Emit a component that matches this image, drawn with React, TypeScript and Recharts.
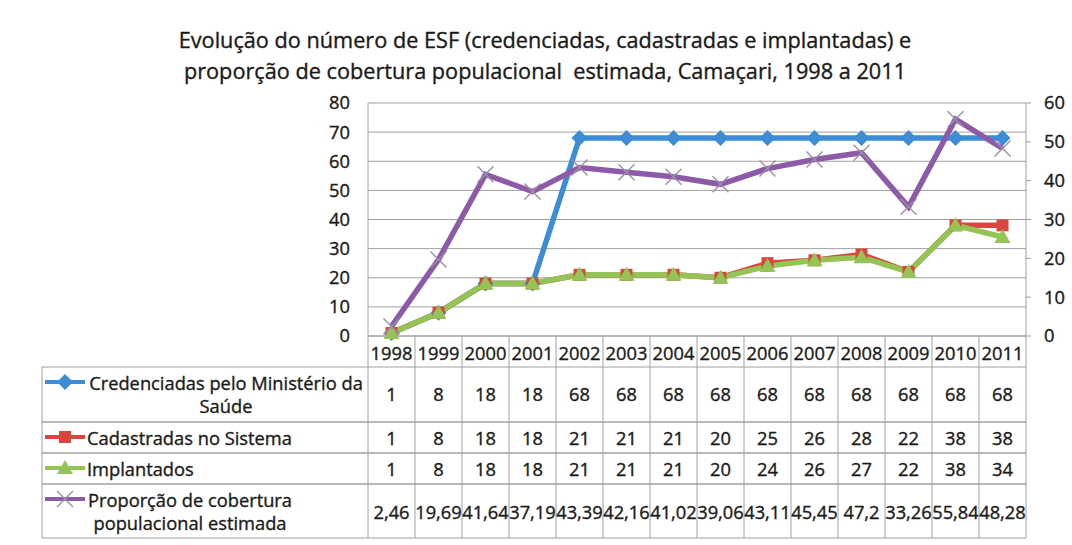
import { LineChart, Line, XAxis, YAxis, CartesianGrid } from 'recharts'

const YEARS = ['1998', '1999', '2000', '2001', '2002', '2003', '2004', '2005', '2006', '2007', '2008', '2009', '2010', '2011']
const CREDENCIADAS = [1, 8, 18, 18, 68, 68, 68, 68, 68, 68, 68, 68, 68, 68]
const CADASTRADAS = [1, 8, 18, 18, 21, 21, 21, 20, 25, 26, 28, 22, 38, 38]
const IMPLANTADOS = [1, 8, 18, 18, 21, 21, 21, 20, 24, 26, 27, 22, 38, 34]
const COBERTURA = [2.46, 19.69, 41.64, 37.19, 43.39, 42.16, 41.02, 39.06, 43.11, 45.45, 47.2, 33.26, 55.84, 48.28]
const LEFT_TICKS = [0, 10, 20, 30, 40, 50, 60, 70, 80]
const RIGHT_TICKS = [0, 10, 20, 30, 40, 50, 60]

const TITLE_1 = 'Evolução do número de ESF (credenciadas, cadastradas e implantadas) e'
const TITLE_2 = 'proporção de cobertura populacional  estimada, Camaçari, 1998 a 2011'

const BLUE = '#3d8dd6'
const RED = '#d9463d'
const GREEN = '#93c455'
const PURPLE = '#8d5aa8'
const X_MARK = '#9b90a6'
const GRID = '#a0a0a0'
const TEXT = '#1a1a1a'
const FONT = '"Open Sans", sans-serif'
const FS = 18.3
const THICK = 0.35 // a little stroke so the regular face reads like the scanned one

// layout
const W = 1072
const H = 545
const PLOT_LEFT = 368
const PLOT_RIGHT = 1026
const PLOT_TOP = 103
const PLOT_BOTTOM = 336
const STEP = (PLOT_RIGHT - PLOT_LEFT) / YEARS.length
const TABLE_LEFT = 42
const HEADER_BOTTOM = 367
const TABLE_BOTTOM = 538

const data = YEARS.map((year, i) => ({
    year,
    credenciadas: CREDENCIADAS[i],
    cadastradas: CADASTRADAS[i],
    implantados: IMPLANTADOS[i],
    cobertura: COBERTURA[i],
}))

const fmt = (v: number) => String(v).replace('.', ',')

const textStyle = { fontFamily: FONT, fontSize: FS, fill: TEXT, stroke: TEXT, strokeWidth: THICK }

type Marker = 'diamond' | 'square' | 'triangle' | 'x'

function drawMarker(kind: Marker, cx: number, cy: number, color: string, key?: any) {
    if (kind === 'diamond')
        return <path key={key} d={`M${cx},${cy - 8}L${cx + 8},${cy}L${cx},${cy + 8}L${cx - 8},${cy}Z`} fill={color} />
    if (kind === 'square')
        return <rect key={key} x={cx - 6} y={cy - 6} width={12} height={12} fill={color} />
    if (kind === 'triangle')
        return <path key={key} d={`M${cx},${cy - 8}L${cx + 8},${cy + 6}L${cx - 8},${cy + 6}Z`} fill={color} />
    return (
        <g key={key} stroke={X_MARK} strokeWidth={1.4}>
            <line x1={cx - 8} y1={cy - 8} x2={cx + 8} y2={cy + 8} />
            <line x1={cx - 8} y1={cy + 8} x2={cx + 8} y2={cy - 8} />
        </g>
    )
}

const dot = (kind: Marker, color: string) => (p: any) => drawMarker(kind, p.cx, p.cy, color, `d-${p.index}`)

// rows of the data table under the chart
const ROWS = [
    { lines: ['Credenciadas pelo Ministério da', 'Saúde'], anchor: 'middle', tx: 226, top: 367, bottom: 422, keyY: 382, valY: 393, color: BLUE, marker: 'diamond' as Marker, values: CREDENCIADAS.map(fmt) },
    { lines: ['Cadastradas no Sistema'], anchor: 'start', tx: 87, top: 422, bottom: 453, keyY: 437, valY: 437, color: RED, marker: 'square' as Marker, values: CADASTRADAS.map(fmt) },
    { lines: ['Implantados'], anchor: 'start', tx: 87, top: 453, bottom: 484, keyY: 468, valY: 468, color: GREEN, marker: 'triangle' as Marker, values: IMPLANTADOS.map(fmt) },
    { lines: ['Proporção de cobertura', 'populacional estimada'], anchor: 'middle', tx: 190, top: 484, bottom: 538, keyY: 499, valY: 511, color: PURPLE, marker: 'x' as Marker, values: COBERTURA.map(fmt) },
]

function LegendColumn({ right }: { right: number }) {
    return (
        <g>
            <line x1={TABLE_LEFT} y1={HEADER_BOTTOM} x2={TABLE_LEFT} y2={TABLE_BOTTOM} stroke={GRID} />
            {ROWS.map((r, i) => (
                <g key={i}>
                    <line x1={TABLE_LEFT} y1={r.top} x2={right} y2={r.top} stroke={GRID} />
                    <line x1={TABLE_LEFT} y1={r.bottom} x2={right} y2={r.bottom} stroke={GRID} />
                    <line x1={45} y1={r.keyY} x2={85} y2={r.keyY} stroke={r.color} strokeWidth={4} />
                    {drawMarker(r.marker, 65, r.keyY, r.marker === 'x' ? X_MARK : r.color)}
                    {r.lines.map((t, j) => (
                        <text key={j} x={r.tx} y={r.keyY + j * 23} textAnchor={r.anchor as any} dominantBaseline="central"
                            {...textStyle}>{t}</text>
                    ))}
                </g>
            ))}
        </g>
    )
}

function TableColumn(props: any) {
    const { x, index } = props
    const left = x - STEP / 2
    const right = x + STEP / 2
    return (
        <g>
            <line x1={left} y1={PLOT_BOTTOM} x2={left} y2={TABLE_BOTTOM} stroke={GRID} />
            {index === YEARS.length - 1 && <line x1={right} y1={PLOT_BOTTOM} x2={right} y2={TABLE_BOTTOM} stroke={GRID} />}
            <text x={x} y={352} textAnchor="middle" dominantBaseline="central" {...textStyle}>
                {YEARS[index]}
            </text>
            {ROWS.map((r, i) => (
                <g key={i}>
                    <line x1={left} y1={r.top} x2={right} y2={r.top} stroke={GRID} />
                    <line x1={left} y1={r.bottom} x2={right} y2={r.bottom} stroke={GRID} />
                    <text x={x} y={r.valY} textAnchor="middle" dominantBaseline="central" {...textStyle}>
                        {r.values[index]}
                    </text>
                </g>
            ))}
            {index === 0 && <LegendColumn right={left} />}
        </g>
    )
}

export default function App() {
    return (
        <div style={{ position: 'absolute', left: 0, top: 0, width: W, height: H, background: '#fff' }}>
            <div style={{
                position: 'absolute', left: 0, top: 24, width: 1090, textAlign: 'center', fontFamily: FONT, fontSize: 21.7,
                lineHeight: '31px', color: TEXT, whiteSpace: 'pre', WebkitTextStroke: `${THICK}px ${TEXT}`,
            }}>
                {TITLE_1}
                <br />
                {TITLE_2}
            </div>
            <LineChart width={W} height={H} data={data} margin={{ top: PLOT_TOP, right: 0, bottom: 0, left: 0 }}>
                <CartesianGrid yAxisId="left" vertical={false} stroke={GRID} horizontalValues={LEFT_TICKS} />
                <XAxis dataKey="year" height={H - PLOT_BOTTOM} interval={0} tickLine={false}
                    axisLine={{ stroke: GRID }} padding={{ left: STEP / 2, right: STEP / 2 }} tick={TableColumn} />
                <YAxis yAxisId="left" width={PLOT_LEFT} domain={[0, 80]} ticks={LEFT_TICKS} interval={0}
                    axisLine={{ stroke: GRID }} tickLine={false} tickMargin={12} tick={textStyle} />
                <YAxis yAxisId="right" orientation="right" width={W - PLOT_RIGHT} domain={[0, 60]} ticks={RIGHT_TICKS} interval={0}
                    axisLine={{ stroke: GRID }} tickLine={{ stroke: GRID }} tickSize={5} tickMargin={13} tick={textStyle} />
                <Line yAxisId="left" dataKey="credenciadas" stroke={BLUE} strokeWidth={5.5} dot={dot('diamond', BLUE)} isAnimationActive={false} />
                <Line yAxisId="left" dataKey="cadastradas" stroke={RED} strokeWidth={5.5} dot={dot('square', RED)} isAnimationActive={false} />
                <Line yAxisId="left" dataKey="implantados" stroke={GREEN} strokeWidth={5.5} dot={dot('triangle', GREEN)} isAnimationActive={false} />
                <Line yAxisId="right" dataKey="cobertura" stroke={PURPLE} strokeWidth={5.5} dot={dot('x', X_MARK)} isAnimationActive={false} />
            </LineChart>
        </div>
    )
}
